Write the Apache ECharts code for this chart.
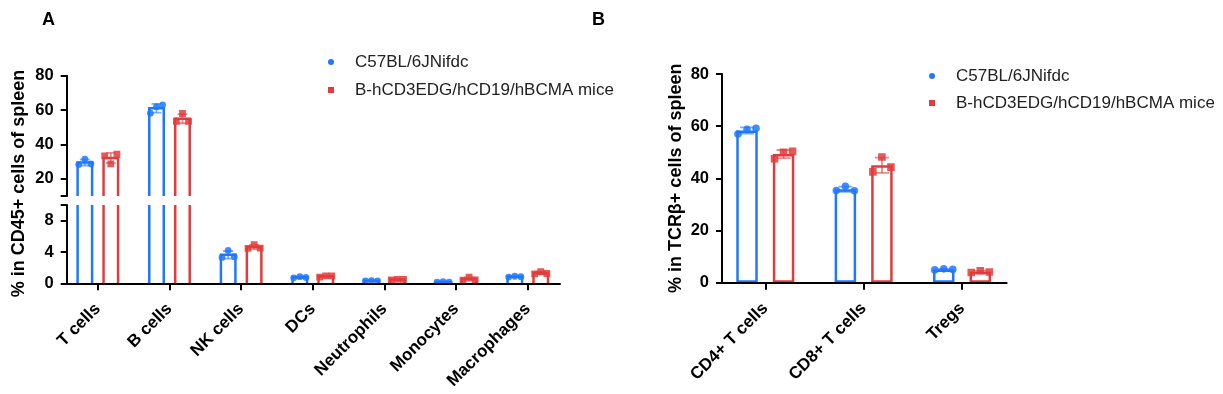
<!DOCTYPE html>
<html>
<head>
<meta charset="utf-8">
<script src="https://cdn.jsdelivr.net/npm/echarts@6/dist/echarts.min.js"></script>
<style>html,body{margin:0;padding:0;background:#fff}#c{width:1223px;height:394px}</style>
</head>
<body>
<div id="c"></div>
<script>
// ---------------- DATA ----------------
const seriesNames = ['C57BL/6JNifdc', 'B-hCD3EDG/hCD19/hBCMA mice'];

const categoriesA = ['T cells', 'B cells', 'NK cells', 'DCs', 'Neutrophils', 'Monocytes', 'Macrophages'];
// three mice per group (% in CD45+ cells of spleen)
const wtPointsA = [
  [28.3, 31.5, 28.7],
  [58.2, 62.0, 63.0],
  [3.3, 4.2, 3.4],
  [0.7, 0.85, 0.75],
  [0.3, 0.35, 0.3],
  [0.15, 0.2, 0.15],
  [0.8, 0.9, 0.85]
];
const hmPointsA = [
  [33.4, 28.7, 34.3],
  [53.5, 58.0, 53.4],
  [4.45, 4.95, 4.5],
  [0.8, 0.95, 0.95],
  [0.45, 0.5, 0.5],
  [0.4, 0.8, 0.45],
  [1.2, 1.5, 1.25]
];
const yTicksAUpper = [20, 40, 60, 80];
const yTicksALower = [0, 4, 8];
const yBreakA = 10;

const categoriesB = ['CD4+ T cells', 'CD8+ T cells', 'Tregs'];
// three mice per group (% in TCRβ+ cells of spleen)
const wtPointsB = [
  [57.0, 58.8, 59.2],
  [35.3, 37.0, 35.2],
  [4.9, 5.3, 5.1]
];
const hmPointsB = [
  [47.5, 50.0, 50.4],
  [42.5, 48.2, 44.3],
  [3.9, 4.6, 4.1]
];
const yTicksB = [0, 20, 40, 60, 80];

// ---------------- HELPERS ----------------
const BLUE = '#1f78ff', RED = '#e33b3b';
const FONT = '"Liberation Sans", Arial, Helvetica, sans-serif';
const JITTER = [-0.42, 0, 0.42];
const SQUARE = 'path://M0,0L10,0L10,10L0,10Z';

function mean(a) { return a.reduce((s, x) => s + x, 0) / a.length; }
function sd(a) { const m = mean(a); return Math.sqrt(a.reduce((s, x) => s + (x - m) * (x - m), 0) / (a.length - 1)); }
function rows(points) { return points.map((p, i) => [i, mean(p), sd(p)].concat(p)); }

function groupRender(side, barW, gap, capW, color, shape, drawBar, ptR) {
  const half = barW * (1 + gap) / 2;
  return function (params, api) {
    const cat = api.value(0), m = api.value(1), s = api.value(2);
    const top = api.coord([cat, m]);
    const cx = top[0] + side * half;
    const children = [];
    if (drawBar) {
      const yBase = api.coord([cat, 0])[1];
      children.push({
        type: 'polyline',
        shape: { points: [[cx - barW / 2, yBase], [cx - barW / 2, top[1]], [cx + barW / 2, top[1]], [cx + barW / 2, yBase]] },
        style: { stroke: color, fill: null, lineWidth: 2.5, lineJoin: 'miter' }
      });
    }
    const yHi = api.coord([cat, m + s])[1], yLo = api.coord([cat, m - s])[1];
    const es = { stroke: color, lineWidth: 1.8, opacity: 0.6 };
    children.push({ type: 'line', shape: { x1: cx, y1: yHi, x2: cx, y2: yLo }, style: es });
    children.push({ type: 'line', shape: { x1: cx - capW / 2, y1: yHi, x2: cx + capW / 2, y2: yHi }, style: es });
    children.push({ type: 'line', shape: { x1: cx - capW / 2, y1: yLo, x2: cx + capW / 2, y2: yLo }, style: es });
    for (let k = 0; k < 3; k++) {
      const py = api.coord([cat, api.value(3 + k)])[1];
      const px = cx + JITTER[k] * barW;
      if (shape === 'circle') {
        children.push({ type: 'circle', shape: { cx: px, cy: py, r: ptR }, style: { fill: color, opacity: 0.85 } });
      } else {
        children.push({ type: 'rect', shape: { x: px - ptR, y: py - ptR, width: 2 * ptR, height: 2 * ptR }, style: { fill: color, opacity: 0.85 } });
      }
    }
    return { type: 'group', children: children };
  };
}

// ---------------- LAYOUT ----------------
const A_DATA_LEFT = 62, A_DATA_W = 501.6, A_AX_LEFT = 66.7, A_AX_W = 493.3;
const A_UP_TOP = 75.7, A_UP_H = 120.3, A_LO_TOP = 205, A_LO_H = 78.3;
const B_DATA_LEFT = 716.1, B_DATA_W = 295.1, B_AX_LEFT = 722, B_AX_W = 284.7, B_TOP = 74, B_H = 208.7;
const A_BAR = 14.5, A_GAP = 0.79, B_BAR = 21.5, B_GAP = 0.70;

const axisLineStyle = { color: '#000', width: 2 };
const tickLabel = { fontSize: 16.5, fontWeight: 'bold', color: '#000', fontFamily: FONT, margin: 13 };
const catLabel = { interval: 0, rotate: 45, margin: 23, fontSize: 17, fontWeight: 'bold', color: '#000', fontFamily: FONT };
const nameStyle = { fontSize: 18, fontWeight: 'bold', color: '#000', fontFamily: FONT };
const legendText = { fontSize: 17, color: '#222', lineHeight: 18, fontFamily: FONT };

function g(left, top, width, height) { return { left: left, top: top, width: width, height: height, containLabel: false, outerBoundsMode: 'none' }; }
function hiddenValueX(i) { return { type: 'value', gridIndex: i, min: 0, max: 1, show: false }; }
function lineOnlyX(i) {
  return { type: 'value', gridIndex: i, min: 0, max: 1, z: 10,
    axisLine: { show: true, onZero: false, lineStyle: axisLineStyle },
    axisTick: { show: false }, axisLabel: { show: false }, splitLine: { show: false } };
}
function legendData() {
  return [
    { name: seriesNames[0], icon: 'circle', itemStyle: { color: BLUE, borderWidth: 0 } },
    { name: seriesNames[1], icon: SQUARE, itemStyle: { color: RED, borderWidth: 0 } }
  ];
}

const option = {
  animation: false,
  backgroundColor: '#fff',
  textStyle: { fontFamily: FONT },
  title: [
    { text: 'A', left: 42, top: 11, padding: 0, textStyle: { fontSize: 18, fontWeight: 'bold', color: '#000', fontFamily: FONT } },
    { text: 'B', left: 592, top: 11, padding: 0, textStyle: { fontSize: 18, fontWeight: 'bold', color: '#000', fontFamily: FONT } }
  ],
  legend: [
    { orient: 'vertical', left: 323, top: 48, itemWidth: 38, itemHeight: 6, itemGap: 10, selectedMode: false,
      symbolKeepAspect: true, textStyle: legendText, data: legendData() },
    { orient: 'vertical', left: 924, top: 62, itemWidth: 38, itemHeight: 6, itemGap: 9, selectedMode: false,
      symbolKeepAspect: true, textStyle: legendText, data: legendData() }
  ],
  grid: [
    g(A_DATA_LEFT, A_UP_TOP, A_DATA_W, A_UP_H),            // 0 A upper data
    g(A_DATA_LEFT, A_LO_TOP, A_DATA_W, A_LO_H),            // 1 A lower data
    g(A_AX_LEFT, A_UP_TOP, A_AX_W, A_UP_H),                // 2 A upper axis
    g(A_AX_LEFT, A_LO_TOP, A_AX_W, A_LO_H),                // 3 A lower axis
    g(A_AX_LEFT, A_UP_TOP + 4, A_AX_W, A_LO_TOP + A_LO_H - A_UP_TOP), // 4 A name
    g(B_DATA_LEFT, B_TOP, B_DATA_W, B_H),                  // 5 B data
    g(B_AX_LEFT, B_TOP, B_AX_W, B_H)                       // 6 B axis
  ],
  xAxis: [
    { type: 'category', gridIndex: 0, data: categoriesA, show: false },
    { type: 'category', gridIndex: 1, data: categoriesA,
      axisLine: { show: false },
      axisTick: { show: true, alignWithLabel: true, length: 7, lineStyle: axisLineStyle },
      axisLabel: catLabel, splitLine: { show: false } },
    hiddenValueX(2),
    lineOnlyX(3),
    hiddenValueX(4),
    { type: 'category', gridIndex: 5, data: categoriesB,
      axisLine: { show: false },
      axisTick: { show: true, alignWithLabel: true, length: 7, lineStyle: axisLineStyle },
      axisLabel: catLabel, splitLine: { show: false } },
    lineOnlyX(6)
  ],
  yAxis: [
    { type: 'value', gridIndex: 0, min: yBreakA, max: 80, show: false },
    { type: 'value', gridIndex: 1, min: 0, max: yBreakA, show: false },
    { type: 'value', gridIndex: 2, min: yBreakA, max: 80, z: 10,
      axisLine: { show: true, onZero: false, lineStyle: axisLineStyle },
      axisTick: { show: true, length: 6, lineStyle: axisLineStyle, customValues: [yBreakA].concat(yTicksAUpper) },
      axisLabel: Object.assign({ customValues: yTicksAUpper }, tickLabel),
      splitLine: { show: false } },
    { type: 'value', gridIndex: 3, min: 0, max: yBreakA, z: 10,
      axisLine: { show: true, onZero: false, lineStyle: axisLineStyle },
      axisTick: { show: true, length: 6, lineStyle: axisLineStyle, customValues: yTicksALower.concat([yBreakA]) },
      axisLabel: Object.assign({ customValues: yTicksALower }, tickLabel),
      splitLine: { show: false } },
    { type: 'value', gridIndex: 4, min: 0, max: 1,
      axisLine: { show: false }, axisTick: { show: false }, axisLabel: { show: false }, splitLine: { show: false },
      name: '% in CD45+ cells of spleen', nameLocation: 'middle', nameGap: 39, nameRotate: 90,
      nameMoveOverlap: false, nameTextStyle: nameStyle },
    { type: 'value', gridIndex: 5, min: 0, max: 80, show: false },
    { type: 'value', gridIndex: 6, min: 0, max: 80, interval: 20, z: 10,
      axisLine: { show: true, onZero: false, lineStyle: axisLineStyle },
      axisTick: { show: true, length: 6, lineStyle: axisLineStyle, customValues: yTicksB },
      axisLabel: Object.assign({ customValues: yTicksB }, tickLabel),
      splitLine: { show: false },
      name: '% in TCRβ+ cells of spleen', nameLocation: 'middle', nameGap: 37, nameRotate: 90,
      nameMoveOverlap: false, nameTextStyle: nameStyle }
  ],
  series: []
};

// Panel A: upper and lower segments of the broken axis
[[0, 0], [1, 1]].forEach(function (ax) {
  option.series.push({
    type: 'custom', name: seriesNames[0], xAxisIndex: ax[0], yAxisIndex: ax[1], clip: true,
    itemStyle: { color: BLUE }, encode: { x: 0, y: 1 },
    renderItem: groupRender(-1, A_BAR, A_GAP, 10, BLUE, 'circle', true, 3.4),
    data: rows(wtPointsA)
  });
  option.series.push({
    type: 'custom', name: seriesNames[1], xAxisIndex: ax[0], yAxisIndex: ax[1], clip: true,
    itemStyle: { color: RED }, encode: { x: 0, y: 1 },
    renderItem: groupRender(1, A_BAR, A_GAP, 10, RED, 'rect', true, 3.4),
    data: rows(hmPointsA)
  });
});

// Panel B: bars + error bars and points
option.series.push({
  type: 'bar', name: seriesNames[0], xAxisIndex: 5, yAxisIndex: 5,
  barWidth: B_BAR, barGap: (B_GAP * 100) + '%',
  itemStyle: { color: '#fff', borderColor: BLUE, borderWidth: 2.5 },
  data: wtPointsB.map(mean)
});
option.series.push({
  type: 'bar', name: seriesNames[1], xAxisIndex: 5, yAxisIndex: 5,
  barWidth: B_BAR, barGap: (B_GAP * 100) + '%',
  itemStyle: { color: '#fff', borderColor: RED, borderWidth: 2.5 },
  data: hmPointsB.map(mean)
});
option.series.push({
  type: 'custom', name: seriesNames[0], xAxisIndex: 5, yAxisIndex: 5, clip: true, z: 3,
  itemStyle: { color: BLUE }, encode: { x: 0, y: 1 },
  renderItem: groupRender(-1, B_BAR, B_GAP, 14, BLUE, 'circle', false, 3.8),
  data: rows(wtPointsB)
});
option.series.push({
  type: 'custom', name: seriesNames[1], xAxisIndex: 5, yAxisIndex: 5, clip: true, z: 3,
  itemStyle: { color: RED }, encode: { x: 0, y: 1 },
  renderItem: groupRender(1, B_BAR, B_GAP, 14, RED, 'rect', false, 3.8),
  data: rows(hmPointsB)
});

const chart = echarts.init(document.getElementById('c'), null, { renderer: 'canvas' });
chart.setOption(option);
</script>
</body>
</html>
